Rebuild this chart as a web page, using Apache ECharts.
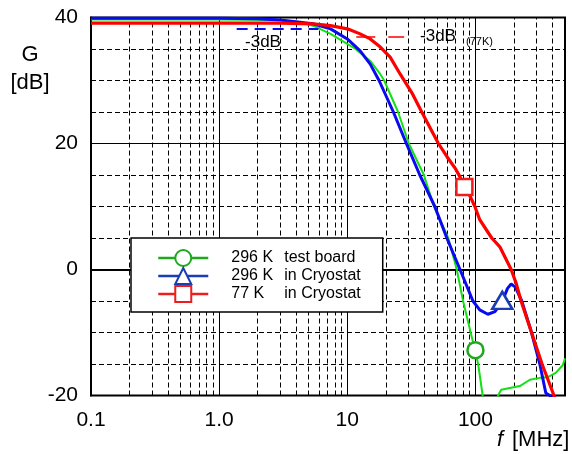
<!DOCTYPE html>
<html><head><meta charset="utf-8">
<script src="https://cdn.jsdelivr.net/npm/echarts@6/dist/echarts.min.js"></script>
<style>html,body{margin:0;padding:0;background:#fff}#c{width:572px;height:454px}</style>
</head><body><div id="c"></div>
<script>
const FONT = '"Liberation Sans", Arial, sans-serif';

// Series names / legend text
const seriesNames = ['296 K test board', '296 K in Cryostat', '77 K in Cryostat'];
const legendTemps = ['296 K', '296 K', '77 K'];
const legendDescs = ['test board', 'in Cryostat', 'in Cryostat'];

// 296 K test board (green)
const greenFreq = [0.1, 1, 3, 4.2, 5.4, 7.4, 10, 11.6, 15.1, 18.1, 19.4, 24.9, 30.2, 39.6, 47.5, 61.4, 71.5, 80.1, 91.8, 99.1, 105, 113.9, 125, 140, 150, 159, 185, 222, 266, 318, 367, 423, 480, 500];
const greenGain = [39.7, 39.7, 39.6, 39.3, 38.7, 37.4, 35.8, 35.0, 33.1, 31.0, 30.0, 25.0, 20.0, 15.0, 10.0, 5.0, 0.0, -5.0, -10.0, -12.8, -15.0, -20.0, -24.0, -24.0, -20.0, -19.1, -18.8, -18.5, -17.5, -17.2, -17.1, -16.4, -15.2, -14.1];

// 296 K in Cryostat (blue)
const blueFreq = [0.1, 1, 2, 3, 5.4, 7.4, 10, 12.6, 15.1, 17.7, 22.9, 28.9, 36.8, 48.2, 59.8, 75.8, 95.6, 108, 125, 142, 161, 178, 190, 205, 230, 274, 318, 354, 380, 416, 450];
const blueGain = [39.9, 39.9, 39.8, 39.6, 39.0, 38.2, 36.6, 34.7, 32.6, 30.0, 25.0, 20.0, 15.0, 10.0, 5.0, 0.0, -5.0, -6.4, -7.1, -6.7, -5.2, -3.0, -2.3, -2.8, -5.0, -10.0, -15.0, -19.6, -20.0, -20.2, -23.0];

// 77 K in Cryostat (red)
const redFreq = [0.1, 1, 3, 5.4, 7.4, 10, 12.6, 15.1, 18.1, 21.6, 25.9, 32, 38.1, 51.4, 60, 69.3, 75.8, 82, 91, 99, 108, 134, 155, 190, 208, 227, 274, 331, 410, 460];
const redGain = [39.1, 39.1, 39.1, 39.0, 38.7, 38.2, 37.4, 36.6, 35.3, 33.7, 31.0, 28.0, 25.0, 20.0, 17.9, 16.1, 14.7, 13.1, 11.6, 10.0, 7.9, 5.0, 3.6, 0.0, -2.2, -5.0, -10.0, -15.0, -20.0, -23.0];

// Marker points [freq, gain]
const greenMarker = [100, -12.8];
const blueMarker = [162, -4.9];
const redMarker = [82, 13.1];

// -3 dB reference lines
const blue3dBFreq = [1.37, 5.95];
const blue3dBGain = 38.2;
const red3dBFreq = [11.75, 27.8];
const red3dBGain = 36.9;

// Axis ticks
const xTickValues = [0.1, 1, 10, 100];
const xTickLabels = ['0.1', '1.0', '10', '100'];
const yTickValues = [-20, 0, 20, 40];
const yTickLabels = ['-20', '0', '20', '40'];
const xMinorGrid = [0.2,0.3,0.4,0.5,0.6,0.7,0.8,0.9, 2,3,4,5,6,7,8,9, 20,30,40,50,60,70,80,90, 200,300,400];

const lineColors = ['#14e014', '#0a0af0', '#ff0000'];
const markColors = ['#1caa1c', '#1a3cb4', '#ee1c1c'];

const zip = (a, b) => a.map((v, i) => [v, b[i]]);

const chart = echarts.init(document.getElementById('c'), null, {renderer: 'canvas'});

chart.setOption({
  animation: false,
  backgroundColor: '#fff',
  grid: {left: 91, right: 7, top: 17.5, bottom: 58.5, show: true, borderColor: '#000', borderWidth: 2, backgroundColor: 'transparent'},
  xAxis: {
    type: 'log', logBase: 10, min: 0.1, max: 500,
    axisLine: {show: true, lineStyle: {color: '#000', width: 2}},
    axisTick: {show: false},
    splitLine: {show: true, lineStyle: {color: '#000', width: 1}},
    axisLabel: {
      fontSize: 21, color: '#000', fontFamily: FONT, margin: 14,
      formatter: v => {
        const i = xTickValues.findIndex(t => Math.abs(Math.log10(v) - Math.log10(t)) < 1e-6);
        return i >= 0 ? xTickLabels[i] : '';
      }
    }
  },
  yAxis: {
    type: 'value', min: -20, max: 40, interval: 20,
    axisLine: {show: true, lineStyle: {color: '#000', width: 2}},
    axisTick: {show: false},
    splitLine: {show: true, lineStyle: {color: '#000', width: 1}},
    minorTick: {show: false, splitNumber: 4},
    minorSplitLine: {show: true, lineStyle: {color: '#000', width: 1, type: [5, 3]}},
    axisLabel: {
      fontSize: 21, color: '#000', fontFamily: FONT, margin: 13,
      formatter: v => { const i = yTickValues.indexOf(v); return i >= 0 ? yTickLabels[i] : ''; }
    }
  },
  legend: {
    orient: 'vertical', left: 131, top: 238, z: 50, zlevel: 0,
    itemWidth: 50, itemHeight: 20, itemGap: 0,
    padding: [11, 22, 9, 26],
    backgroundColor: '#fff', borderColor: '#000', borderWidth: 1.5,
    selectedMode: false,
    data: seriesNames.map((n, i) => ({name: n, lineStyle: {color: markColors[i], width: 2.5}, itemStyle: {color: markColors[i], opacity: 1}})),
    formatter: name => {
      const i = seriesNames.indexOf(name);
      return '{a|' + legendTemps[i] + '}{b|' + legendDescs[i] + '}';
    },
    textStyle: {
      fontSize: 16, color: '#000', fontFamily: FONT,
      rich: {
        a: {width: 53, padding: [0, 0, 0, 18], fontSize: 16, color: '#000', fontFamily: FONT},
        b: {fontSize: 16, color: '#000', fontFamily: FONT}
      }
    }
  },
  graphic: [
    {type: 'text', x: 30, y: 55, style: {text: 'G', fontSize: 22, fontFamily: FONT, fill: '#000', textAlign: 'center', textVerticalAlign: 'middle'}},
    {type: 'text', x: 30, y: 83, style: {text: '[dB]', fontSize: 22, fontFamily: FONT, fill: '#000', textAlign: 'center', textVerticalAlign: 'middle'}},
    {type: 'text', x: 497, y: 440, style: {text: 'f', fontSize: 22, fontStyle: 'italic', fontFamily: FONT, fill: '#000', textAlign: 'left', textVerticalAlign: 'middle'}},
    {type: 'text', x: 512, y: 440, style: {text: '[MHz]', fontSize: 22, fontFamily: FONT, fill: '#000', textAlign: 'left', textVerticalAlign: 'middle'}},
    {type: 'text', x: 263, y: 42, z: 10, style: {text: '-3dB', fontSize: 17, fontFamily: FONT, fill: '#000', textAlign: 'center', textVerticalAlign: 'middle'}},
    {type: 'text', x: 438, y: 36, z: 10, style: {text: '-3dB', fontSize: 17, fontFamily: FONT, fill: '#000', textAlign: 'center', textVerticalAlign: 'middle'}},
    {type: 'text', x: 466, y: 42, z: 10, style: {text: '(77K)', fontSize: 11, fontFamily: FONT, fill: '#000', textAlign: 'left', textVerticalAlign: 'middle'}}
  ],
  series: [
    {
      type: 'line', name: 'xMinorGrid', data: [], silent: true, z: 1,
      markLine: {
        silent: true, symbol: ['none', 'none'], label: {show: false}, z: 1,
        lineStyle: {color: '#000', width: 1, type: [5, 3]},
        emphasis: {disabled: true},
        data: xMinorGrid.map(v => ({xAxis: v}))
      }
    },
    {
      type: 'line', name: seriesNames[0], data: zip(greenFreq, greenGain),
      showSymbol: false, symbol: 'emptyCircle', z: 3,
      lineStyle: {color: lineColors[0], width: 2}, itemStyle: {color: markColors[0]}
    },
    {
      type: 'line', name: seriesNames[1], data: zip(blueFreq, blueGain),
      showSymbol: false, symbol: 'emptyTriangle', z: 4,
      lineStyle: {color: lineColors[1], width: 3}, itemStyle: {color: markColors[1]},
      markLine: {
        silent: true, symbol: ['none', 'none'], label: {show: false},
        lineStyle: {color: lineColors[1], width: 2, type: [11, 7]},
        data: [[{coord: [blue3dBFreq[0], blue3dBGain]}, {coord: [blue3dBFreq[1], blue3dBGain]}]]
      }
    },
    {
      type: 'line', name: seriesNames[2], data: zip(redFreq, redGain),
      showSymbol: false, symbol: 'emptyRect', z: 5,
      lineStyle: {color: lineColors[2], width: 3.2}, itemStyle: {color: markColors[2]},
      markLine: {
        silent: true, symbol: ['none', 'none'], label: {show: false},
        lineStyle: {color: lineColors[2], width: 1.5, type: [19, 13]},
        data: [[{coord: [red3dBFreq[0], red3dBGain]}, {coord: [red3dBFreq[1], red3dBGain]}]]
      }
    },
    {
      type: 'scatter', name: 'm0', data: [greenMarker], symbol: 'circle', symbolSize: 16, z: 6,
      itemStyle: {color: '#fff', borderColor: markColors[0], borderWidth: 2.5, opacity: 1}
    },
    {
      type: 'scatter', name: 'm1', data: [blueMarker], symbol: 'triangle', symbolSize: [20, 17], z: 6,
      itemStyle: {color: '#fff', borderColor: markColors[1], borderWidth: 2.5, opacity: 1}
    },
    {
      type: 'scatter', name: 'm2', data: [redMarker], symbol: 'rect', symbolSize: 16, z: 6,
      itemStyle: {color: '#fff', borderColor: markColors[2], borderWidth: 2.5, opacity: 1}
    }
  ]
});
</script>
</body></html>
